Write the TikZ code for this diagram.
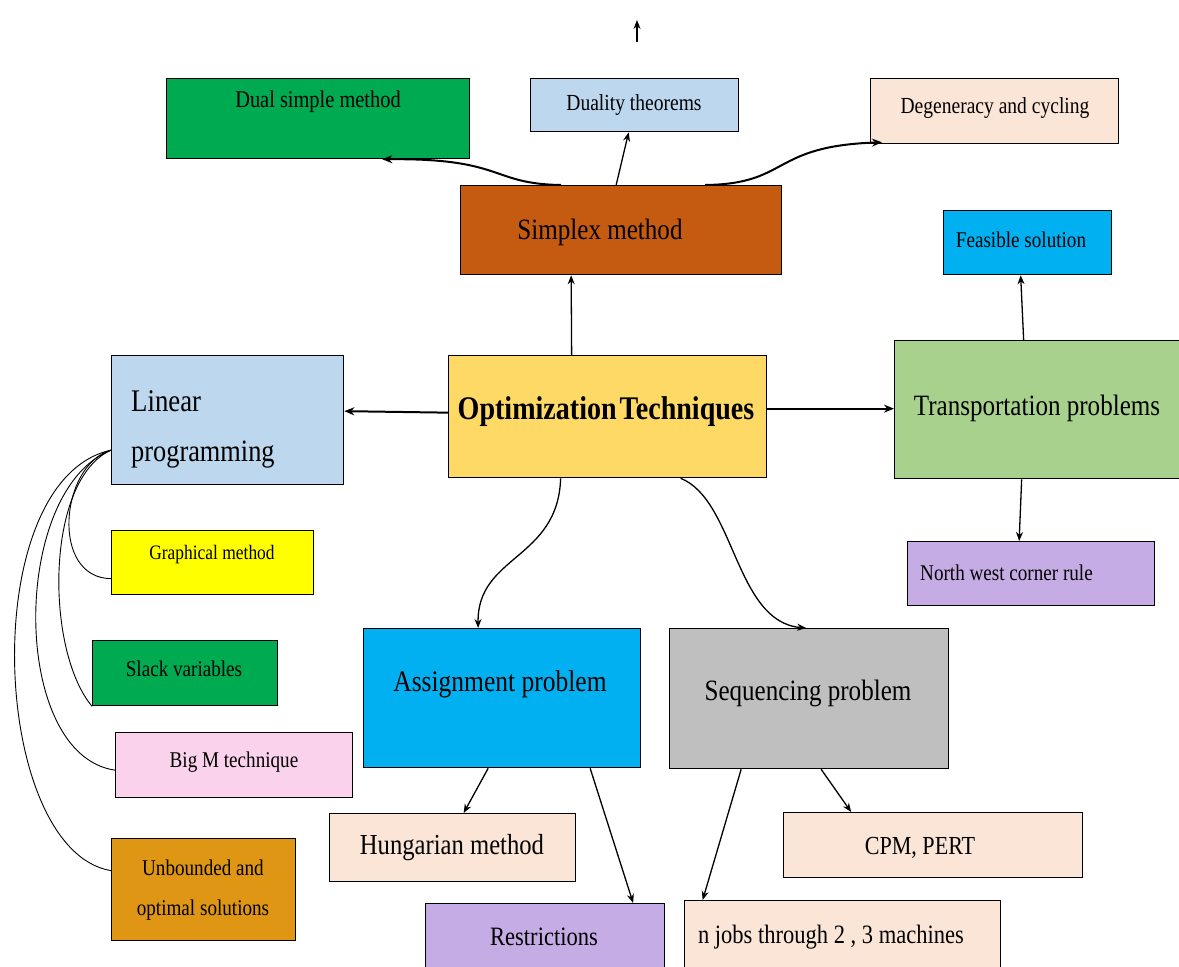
\documentclass[tikz,border=0pt]{standalone}
\usepackage{fontspec}
\setmainfont{Liberation Serif}[FakeStretch=0.85]
\usetikzlibrary{arrows.meta}
\newcommand\fsz[1]{\fontsize{#1}{#1}\selectfont}
\definecolor{cgreen}{RGB}{0,170,80}
\definecolor{cltblue}{RGB}{189,215,238}
\definecolor{cpeach}{RGB}{251,229,214}
\definecolor{crust}{RGB}{197,90,17}
\definecolor{ccyan}{RGB}{0,176,240}
\definecolor{cgold}{RGB}{255,217,102}
\definecolor{cltgreen}{RGB}{169,209,142}
\definecolor{cyellow}{RGB}{255,255,0}
\definecolor{cpink}{RGB}{250,210,235}
\definecolor{corange}{RGB}{222,150,20}
\definecolor{cgray}{RGB}{191,191,191}
\definecolor{clav}{RGB}{197,172,228}
\tikzset{
  box/.style={draw=black, line width=1.3pt, inner sep=0pt, anchor=north west},
  arr/.style={-{Stealth[length=9pt,width=7pt]}, line width=1.3pt},
  thk/.style={-{Stealth[length=10pt,width=8pt]}, line width=2pt},
  thin/.style={line width=0.9pt},
  txt/.style={inner sep=0pt, text=black}
}
\begin{document}
\begin{tikzpicture}[x=1pt,y=-1pt]
\useasboundingbox (0,0) rectangle (1179,967);
% boxes
\node[box, fill=cgreen, minimum width=303pt, minimum height=80pt] (dual) at (166,78) {};
\node[box, fill=cltblue, minimum width=208pt, minimum height=53pt] (dty) at (530,78) {};
\node[box, fill=cpeach, minimum width=248pt, minimum height=65pt] (deg) at (870,78) {};
\node[box, fill=crust, minimum width=321pt, minimum height=89pt] (smp) at (460,185) {};
\node[box, fill=ccyan, minimum width=168pt, minimum height=64pt] (fea) at (943,210) {};
\node[box, fill=cltblue, minimum width=232pt, minimum height=129pt] (lin) at (111,355) {};
\node[box, fill=cgold, minimum width=318pt, minimum height=122pt] (opt) at (448,355) {};
\node[box, fill=cltgreen, minimum width=290pt, minimum height=138pt] (trn) at (894,340) {};
\node[box, fill=cyellow, minimum width=202pt, minimum height=64pt] (gra) at (111,530) {};
\node[box, fill=cgreen, minimum width=185pt, minimum height=65pt] (slk) at (92,640) {};
\node[box, fill=cpink, minimum width=237pt, minimum height=65pt] (bigm) at (115,732) {};
\node[box, fill=corange, minimum width=184pt, minimum height=102pt] (unb) at (111,838) {};
\node[box, fill=ccyan, minimum width=277pt, minimum height=139pt] (asg) at (363,628) {};
\node[box, fill=cgray, minimum width=279pt, minimum height=140pt] (seq) at (669,628) {};
\node[box, fill=clav, minimum width=247pt, minimum height=64pt] (nw) at (907,541) {};
\node[box, fill=cpeach, minimum width=246pt, minimum height=68pt] (hun) at (329,813) {};
\node[box, fill=cpeach, minimum width=299pt, minimum height=65pt] (cpm) at (783,812) {};
\node[box, fill=clav, minimum width=239pt, minimum height=80pt] (res) at (425,903) {};
\node[box, fill=cpeach, minimum width=316pt, minimum height=80pt] (njb) at (684,900) {};
% texts
\node[txt] (tdual) at (318,102) {\fsz{24}Dual simple method};
\node[txt] (tdty) at (634,105) {\fsz{23}Duality theorems};
\node[txt] (tdeg) at (995,108) {\fsz{23}Degeneracy and cycling};
\node[txt] (tsmp) at (600,232) {\fsz{29.5}Simplex method};
\node[txt] (tfea) at (1021,240) {\fsz{22.5}Feasible solution};
\node[txt, anchor=base west] (tlin1) at (131,411) {\fsz{31.5}Linear};
\node[txt, anchor=base west] (tlin2) at (131,461) {\fsz{31}programming};
\node[txt] (topt) at (606,412) {\fsz{33}\bfseries Optimization\hspace{3pt}Techniques};
\node[txt] (ttrn) at (1037,408) {\fsz{29.5}Transportation problems};
\node[txt] (tgra) at (212,555) {\fsz{20.5}Graphical method};
\node[txt] (tslk) at (184,669) {\fsz{22.5}Slack variables};
\node[txt] (tbigm) at (234,762) {\fsz{22.5}Big M technique};
\node[txt, align=center, font=\fontsize{22.5}{40}\selectfont] (tunb) at (203,890) {Unbounded and\\ optimal solutions};
\node[txt] (tasg) at (500,684) {\fsz{30}Assignment problem};
\node[txt] (tseq) at (808,693) {\fsz{29.5}Sequencing problem};
\node[txt, anchor=west] (tnw) at (920,573) {\fsz{22.5}North west corner rule};
\node[txt] (thun) at (452,848) {\fsz{29}Hungarian method};
\node[txt] (tcpm) at (920,848) {\fsz{26}CPM, PERT};
\node[txt] (tres) at (544,937) {\fsz{26.5}Restrictions};
\node[txt] (tnjb) at (831,937) {\fsz{26.5}n jobs through 2 , 3 machines};
% top free arrow
\coordinate (ta) at (637,42);
\coordinate (tb) at (637,20);
\draw[arr] (ta) -- (tb);
% connectors
\draw[arr] ([xshift=-36pt]opt.north) -- ([xshift=-50pt]smp.south);
\draw[thk] ([xshift=-60pt]smp.north) .. controls (490,184) and (505,158) .. ([xshift=-88pt]dual.south east);
\draw[arr] ([xshift=-5pt]smp.north) -- ([xshift=-6pt]dty.south);
\draw[thk] ([xshift=84pt]smp.north) .. controls (790,184) and (770,146) .. ([xshift=12pt,yshift=2pt]deg.south west);
\draw[thk] ([yshift=4pt]opt.west) -- ([yshift=9pt]lin.east);
\draw[thk] ([yshift=8pt]opt.east) -- ([yshift=1pt]trn.west);
\draw[arr] ([xshift=-16pt]trn.north) -- ([xshift=-7pt]fea.south);
\draw[arr] ([xshift=-18pt]trn.south) -- ([xshift=-12pt]nw.north);
\draw[arr] ([xshift=-47pt]opt.south) .. controls (558,560) and (477,555) .. ([xshift=-24pt]asg.north);
\draw[arr] ([xshift=73pt]opt.south) .. controls (735,500) and (735,622) .. ([xshift=-3pt]seq.north);
\draw[arr] ([xshift=-14pt]asg.south) -- ([xshift=11pt]hun.north);
\draw[arr] ([xshift=88pt]asg.south) -- ([xshift=88pt]res.north);
\draw[arr] ([xshift=12pt]seq.south) -- ([xshift=-82pt]cpm.north);
\draw[arr] ([xshift=-68pt]seq.south) -- ([xshift=-140pt]njb.north);
% linear programming sub-links
\coordinate (lpo) at ([yshift=-30pt]lin.west);
\draw[thin] (lpo) .. controls (60,465) and (50,578) .. ([yshift=-16pt]gra.west);
\draw[thin] (lpo) .. controls (45,480) and (45,650) .. (slk.south west);
\draw[thin] (lpo) .. controls (10,490) and (10,755) .. ([yshift=-5pt]bigm.west);
\draw[thin] (lpo) .. controls (-25,480) and (-10,850) .. ([yshift=19pt]unb.west);
\end{tikzpicture}
\end{document}
